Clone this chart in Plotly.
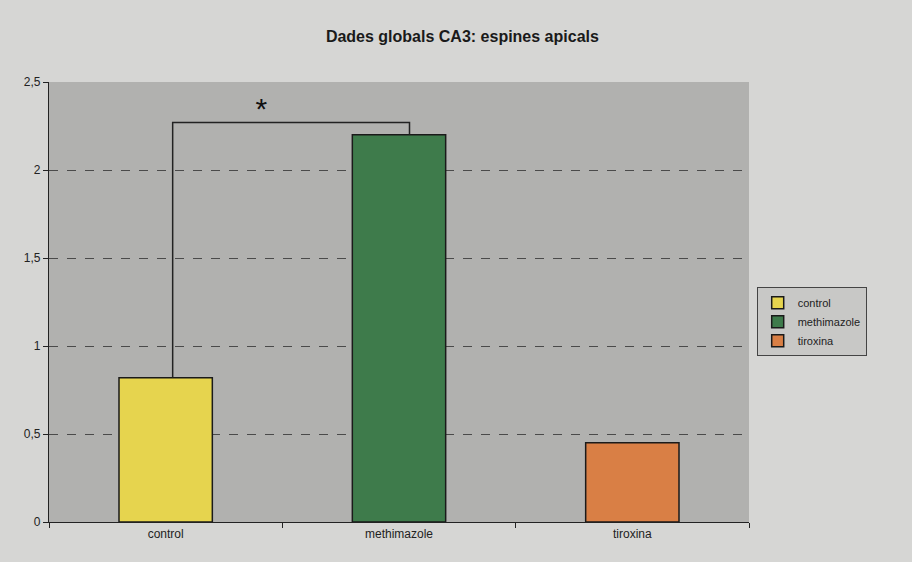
import plotly.graph_objects as go

# Mean apical spine density per group (CA3)
groups = ["control", "methimazole", "tiroxina"]
values = [0.82, 2.20, 0.45]
colors = ["#e6d44e", "#3e7b4b", "#d97f45"]

# Significance bracket between control and methimazole
bracket_y = 2.27
bracket_x = [0.03, 1.045]
star_x = 0.41
star_y = 2.33

y_ticks = [0, 0.5, 1, 1.5, 2, 2.5]

FONT = "Liberation Sans Narrow, Arial Narrow, Liberation Sans, Arial, sans-serif"

fig = go.Figure()
for g, v, c in zip(groups, values, colors):
    fig.add_trace(go.Bar(
        x=[g], y=[v], name=g, width=0.4,
        marker=dict(color=c, line=dict(color="#1a1a1a", width=1.5)),
    ))

fig.add_trace(go.Scatter(
    x=[bracket_x[0], bracket_x[0], bracket_x[1], bracket_x[1]],
    y=[values[0], bracket_y, bracket_y, values[1]],
    mode="lines", line=dict(color="#222222", width=1.5),
    showlegend=False, hoverinfo="skip", xaxis="x2",
))
fig.add_trace(go.Scatter(
    x=[star_x], y=[star_y], mode="text", text=["*"],
    textfont=dict(size=30, color="#111111", family="Liberation Sans, Arial"),
    showlegend=False, hoverinfo="skip", xaxis="x2",
))

fig.update_layout(
    width=912, height=562,
    margin=dict(l=49, r=163, t=82, b=40),
    paper_bgcolor="#d6d6d4",
    plot_bgcolor="#b1b1af",
    separators=", ",
    font=dict(family=FONT, size=12, color="#222222"),
    title=dict(text="<b>Dades globals CA3: espines apicals</b>",
               x=0.507, xanchor="center", y=0.935, yanchor="middle",
               font=dict(size=16, family=FONT, color="#1a1a1a")),
    bargap=0.6,
    showlegend=True,
    legend=dict(x=1.011, y=0.455, xanchor="left", yanchor="middle",
                bgcolor="#c8c8c6", bordercolor="#444444", borderwidth=1,
                font=dict(size=11, family=FONT, color="#222222"),
                itemwidth=30, tracegroupgap=0),
    xaxis=dict(type="category", showline=True, linecolor="#222222", linewidth=1.2,
               ticks="outside", tickson="boundaries", ticklen=5, tickcolor="#222222",
               showgrid=False, tickfont=dict(size=12, family=FONT, color="#222222"),
               range=[-0.5, 2.5], fixedrange=True),
    xaxis2=dict(overlaying="x", range=[-0.5, 2.5], visible=False),
    yaxis=dict(range=[0, 2.5], tickvals=y_ticks, showline=True, linecolor="#222222",
               linewidth=1.2, ticks="outside", ticklen=5, tickcolor="#222222",
               showgrid=True, gridcolor="#4a4a4a", griddash="dash", gridwidth=1,
               zeroline=False, tickfont=dict(size=12, family=FONT, color="#222222")),
)

fig.write_html("out.html")
